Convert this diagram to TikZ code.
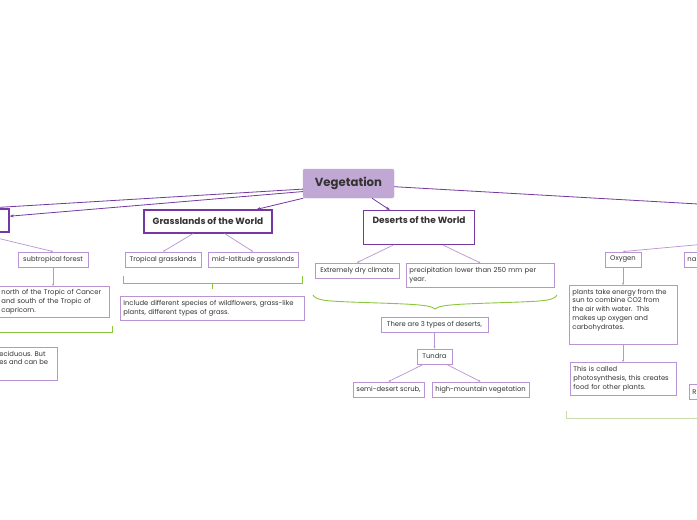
\documentclass[tikz,border=0pt]{standalone}
\usepackage{fontspec}
\setmainfont{Poppins}
\usetikzlibrary{arrows.meta}
\definecolor{dpurp}{HTML}{7438A0}
\definecolor{lpurp}{HTML}{B994D3}
\definecolor{vfill}{HTML}{C1A7D3}
\definecolor{grn}{HTML}{8CC63F}
\definecolor{lgrn}{HTML}{C9DBAA}
\definecolor{txt}{HTML}{333333}
\newcommand\topbox[3]{\parbox[c][#2][t]{#1}{\raggedright #3}}
\begin{document}
\begin{tikzpicture}[x=1pt,y=-1pt,
  vegbox/.style={fill=vfill, draw=vfill, rounded corners=2pt, text=txt,
    font=\bfseries\fontsize{11.7}{13}\selectfont, inner sep=0pt},
  mainbox/.style={draw=dpurp, line width=1.2pt, text=txt,
    font=\bfseries\fontsize{9}{10}\selectfont, inner sep=0pt},
  subbox/.style={draw=lpurp, line width=0.9pt, text=txt, fill=white,
    font=\fontsize{6.8}{8.8}\selectfont, inner sep=0pt},
  multibox/.style={subbox, anchor=north west, align=left, inner xsep=3pt, inner ysep=0pt},
  mline/.style={draw=dpurp, line width=0.8pt},
  marrow/.style={mline, -{Stealth[length=4pt,width=3pt]}},
  sline/.style={draw=lpurp, line width=0.7pt, -{Stealth[length=2.2pt,width=2pt]}},
  brk/.style={draw=grn, line width=0.9pt},
  lbrk/.style={draw=lgrn, line width=0.9pt}
]
\useasboundingbox (0,0) rectangle (697,520);
\begin{scope}
\clip (0,0) rectangle (697,520);
\fill[white] (0,0) rectangle (697,520);

% main nodes
\node[vegbox, minimum width=91pt, minimum height=29pt] (V) at (348.5,183.5) {Vegetation};
\node[mainbox, minimum width=69pt, minimum height=23pt] (LM) at (-25.5,220.5) {};
\node[mainbox, minimum width=128pt, minimum height=23pt] (GR) at (208,221.5) {Grasslands of the World};
\node[mainbox, anchor=north west, inner sep=0pt] (DE) at (363,210)
  {\parbox[c][34pt][t]{111pt}{\centering\vspace{6pt}Deserts of the World}};

% sub nodes
\node[subbox, minimum width=70pt, minimum height=15pt] (SF) at (53,259.5) {subtropical forest};
\node[subbox, minimum width=76pt, minimum height=15pt] (TG) at (163,259.5) {Tropical grasslands};
\node[subbox, minimum width=90pt, minimum height=15pt] (MG) at (253,259.5) {mid-latitude grasslands};
\node[subbox, minimum width=84pt, minimum height=15pt] (EC) at (357,270.5) {Extremely dry climate};
\node[multibox, text width=142pt, minimum height=24pt] (PR) at (406,263)
  {precipitation lower than 250 mm per\\year.};
\node[multibox, text width=105pt, minimum height=31pt] (NT) at (-2,286)
  {north of the Tropic of Cancer\\and south of the Tropic of\\capricorn.};
\node[multibox, inner ysep=3.5pt] (DC) at (-4,347)
  {\topbox{55pt}{26pt}{eciduous. But\\es and can be}};
\node[multibox, text width=178pt, minimum height=24pt] (IN) at (120,296)
  {Include different species of wildflowers, grass-like\\plants, different types of grass.};
\node[subbox, minimum width=107pt, minimum height=15pt] (TY) at (434.5,324.5) {There are 3 types of deserts,};
\node[subbox, minimum width=35pt, minimum height=15pt] (TU) at (434.5,356.5) {Tundra};
\node[subbox, minimum width=71pt, minimum height=15pt] (SS) at (388.5,389.5) {semi-desert scrub,};
\node[subbox, minimum width=97pt, minimum height=15pt] (HM) at (480.5,389.5) {high-mountain vegetation};
\node[subbox, minimum width=36pt, minimum height=15pt] (OX) at (623,259.5) {Oxygen};
\node[multibox, text width=48pt, minimum height=15pt] (NA) at (684,252) {na};
\node[multibox, inner ysep=3.5pt] (PL) at (569,285)
  {\topbox{102pt}{52pt}{plants take energy from the\\sun to combine CO2 from\\the air with water.\ \ This\\makes up oxygen and\\carbohydrates.}};
\node[multibox, text width=100pt, minimum height=33pt] (PH) at (570,362)
  {This is called\\photosynthesis, this creates\\food for other plants.};
\node[multibox, text width=48pt, minimum height=15pt] (RR) at (689,384) {R};

% off-page ends
\coordinate (offL) at (-100,213.3);
\coordinate (offR) at (800,209.8);
\coordinate (offR2) at (760,239);

% main connectors
\draw[mline] (V.187) -- (offL);
\draw[marrow] (V.190) -- (LM.7);
\draw[marrow] (V.198) -- (GR.14);
\draw[marrow] (V.328) -- (DE.149);
\draw[mline] (V.356) -- (offR);

% sub connectors
\draw[sline] (LM.south) -- (SF.north);
\draw[sline] (SF.south) -- (NT.north -| SF.south);
\draw[sline] (GR.219) -- (TG.north);
\draw[sline] (GR.324) -- (MG.north);
\draw[sline] (DE.214) -- (EC.north);
\draw[sline] (DE.324) -- (PR.north);
\draw[sline] (TY.south) -- (TU.north);
\draw[sline] (TU.215) -- (SS.north);
\draw[sline] (TU.327) -- (HM.north);
\draw[sline] (offR2) -- (OX.north);
\draw[sline] (OX.south) -- (PL.north -| OX.south);
\draw[sline] (PL.south -| OX.south) -- (PH.north -| OX.south);

% brackets
\coordinate (b1a) at (112,326);
\coordinate (b1b) at (-10,332);
\draw[brk] (b1a) |- (b1b);
\coordinate (b2a) at (123,276);
\coordinate (b2b) at (302,276);
\coordinate (b2c) at (212,283);
\draw[brk] (b2a) -- (123,283) -- (302,283) -- (b2b);
\draw[brk] (b2c) -- (212,289);
\coordinate (c1) at (313,295);
\coordinate (c2) at (435,309);
\coordinate (c3) at (557,295);
\draw[brk] (c1) .. controls (316,301) and (330,301) .. (350,302)
  .. controls (405,304) and (430,304) .. (c2)
  .. controls (440,304) and (465,304) .. (520,302)
  .. controls (540,301) and (554,301) .. (c3);
\coordinate (b4a) at (566,411);
\draw[lbrk] (b4a) |- (710,418);
\end{scope}
\end{tikzpicture}
\end{document}
